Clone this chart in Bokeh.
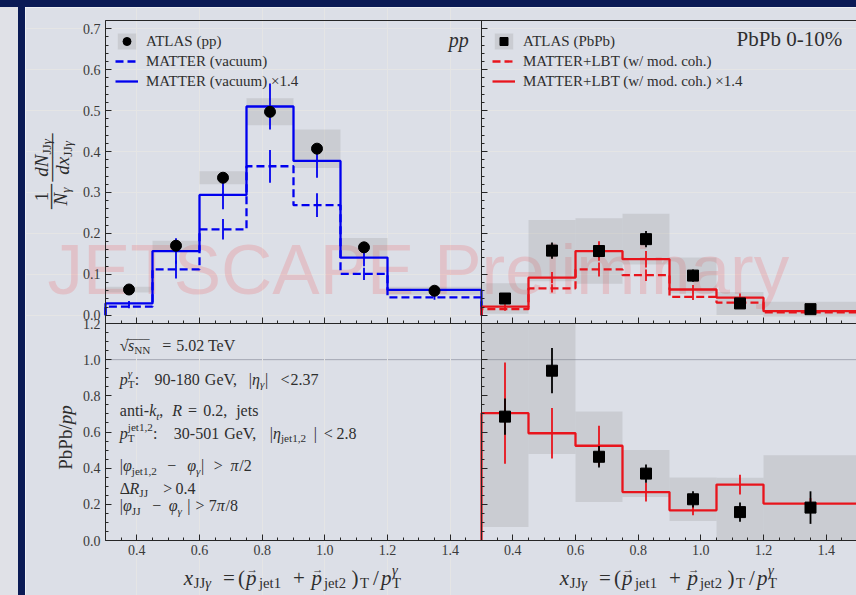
import math
from bokeh.plotting import figure
from bokeh.models import (Range1d, LinearAxis, FixedTicker, PrintfTickFormatter,
                          Label, Spacer, Legend, LegendItem)
from bokeh.layouts import row, column
from bokeh.embed import file_html
from bokeh.resources import INLINE
from bokeh.core.properties import value

# ---------------- data ----------------
bin_edges = [0.3, 0.45, 0.6, 0.75, 0.9, 1.05, 1.2, 1.5]
bin_centers = [0.375, 0.525, 0.675, 0.825, 0.975, 1.125, 1.35]

atlas_pp = [0.063, 0.170, 0.336, 0.497, 0.407, 0.166, 0.060]
atlas_pp_stat = [0.004, 0.006, 0.008, 0.010, 0.010, 0.007, 0.003]
atlas_pp_sys = [0.007, 0.012, 0.016, 0.033, 0.047, 0.023, 0.010]

matter_vac = [0.021, 0.112, 0.210, 0.364, 0.269, 0.101, 0.044]
matter_vac_err = [0.004, 0.022, 0.025, 0.040, 0.029, 0.015, 0.006]
matter_vac_x14 = [0.029, 0.157, 0.294, 0.510, 0.377, 0.141, 0.062]
matter_vac_x14_err = [0.006, 0.031, 0.035, 0.056, 0.041, 0.021, 0.008]

atlas_pbpb = [0.041, 0.158, 0.157, 0.186, 0.097, 0.029, 0.015]
atlas_pbpb_stat = [0.006, 0.020, 0.015, 0.020, 0.015, 0.006, 0.004]
atlas_pbpb_sys = [0.037, 0.075, 0.080, 0.062, 0.044, 0.028, 0.018]

lbt = [0.015, 0.066, 0.112, 0.098, 0.045, 0.031, 0.0073]
lbt_err = [0.004, 0.010, 0.017, 0.014, 0.0075, 0.007, 0.002]
lbt_x14 = [0.021, 0.092, 0.157, 0.137, 0.063, 0.043, 0.010]
lbt_x14_err = [0.006, 0.014, 0.024, 0.020, 0.011, 0.010, 0.003]

ratio_atlas = [0.685, 0.939, 0.463, 0.370, 0.228, 0.157, 0.182]
ratio_atlas_stat = [0.10, 0.125, 0.06, 0.05, 0.045, 0.053, 0.09]
ratio_atlas_sys = [0.611, 0.46, 0.25, 0.13, 0.12, 0.19, 0.29]
ratio_model = [0.704, 0.593, 0.524, 0.268, 0.167, 0.309, 0.204]
ratio_model_err = [0.28, 0.14, 0.11, 0.052, 0.028, 0.055, 0.03]
ratio_ref = 1.0

x_ticks = [0.4, 0.6, 0.8, 1.0, 1.2, 1.4]
x_minor = [0.35, 0.45, 0.5, 0.55, 0.65, 0.7, 0.75, 0.85, 0.9, 0.95,
           1.05, 1.1, 1.15, 1.25, 1.3, 1.35, 1.45]
top_y_ticks = [0.0, 0.1, 0.2, 0.3, 0.4, 0.5, 0.6, 0.7]
top_y_minor = [round(-0.02 + 0.02 * i, 2) for i in range(38)]
ratio_y_ticks = [0.0, 0.2, 0.4, 0.6, 0.8, 1.0, 1.2]
ratio_y_minor = [round(0.05 * i, 2) for i in range(25)]

XMIN, XMAX = 0.3, 1.5
T_BOT, T_TOP = -0.02, 0.72
B_BOT, B_TOP = 0.0, 1.2

# ---------------- styling / geometry ----------------
BG = "#dcdfe7"
LEFT_BG = "#e0e1e7"
NAVY = "#0a1a55"
BLUE = "#0000ee"
RED = "#e8141c"
AX = "#262626"
TXT = "#2e2e2e"
TICK_TXT = "#3a3a3a"
SERIF = "Liberation Serif"
SANS = "Liberation Sans"
BASE_FIX = 0.3   # lift applied to text anchors so glyph baselines land where intended

FIG_X0, FIG_Y0, FIG_X1, FIG_Y1 = 25, 7, 856, 595   # figure box on the page
FX0, FY0, FY1 = 105, 20, 540                        # panel frame edges on the page
MID_Y, DIV_X = 323, 481

SX = (DIV_X - FX0) / (XMAX - XMIN)
ST = (MID_Y - FY0) / (T_TOP - T_BOT)
SB = (FY1 - MID_Y) / (B_TOP - B_BOT)

XL = Range1d(XMIN - (FX0 - FIG_X0) / SX, XMIN + (FIG_X1 - FX0) / SX)
XR = Range1d(XMIN - (DIV_X - FIG_X0) / SX, XMIN + (FIG_X1 - DIV_X) / SX)
YT = Range1d(T_TOP - (FIG_Y1 - FY0) / ST, T_TOP + (FY0 - FIG_Y0) / ST)
YB = Range1d(B_BOT - (FIG_Y1 - FY1) / SB, B_BOT + (FY1 - FIG_Y0) / SB)

p = figure(width=FIG_X1 - FIG_X0, height=FIG_Y1 - FIG_Y0, output_backend="svg",
           toolbar_location=None, x_range=XL, y_range=YT,
           x_axis_location=None, y_axis_location=None,
           min_border=0, min_border_left=0, min_border_right=0,
           min_border_top=0, min_border_bottom=0,
           background_fill_color=BG, border_fill_color=BG, outline_line_color=None)
p.extra_x_ranges = {"R": XR}
p.extra_y_ranges = {"B": YB}


def add_axis(side, ticks, minor, fixed, bounds, labels, xr="default", yr="default",
             tin=6, mtin=3):
    ax = LinearAxis(ticker=FixedTicker(ticks=ticks, minor_ticks=minor),
                    formatter=PrintfTickFormatter(format="%.1f"),
                    fixed_location=fixed, bounds=bounds, x_range_name=xr, y_range_name=yr,
                    axis_line_color=AX, axis_line_width=1,
                    major_tick_line_color=AX, minor_tick_line_color=AX,
                    major_tick_in=tin, major_tick_out=0, minor_tick_in=mtin, minor_tick_out=0,
                    major_label_text_font=SERIF, major_label_text_font_size="14px",
                    major_label_text_color=TICK_TXT if labels else None,
                    major_label_standoff=5 if side == "left" else 4)
    p.add_layout(ax, side)


# spines and axes of the four panels
add_axis("above", [], [], T_TOP, (XMIN, XL.end), False, tin=0, mtin=0)
add_axis("left", top_y_ticks, top_y_minor, XMIN, (T_BOT, T_TOP), True)
add_axis("left", top_y_ticks, top_y_minor, XMAX, (T_BOT, T_TOP), False)
add_axis("left", ratio_y_ticks, ratio_y_minor, XMIN, (B_BOT, B_TOP), True, yr="B")
add_axis("left", ratio_y_ticks, ratio_y_minor, XMAX, (B_BOT, B_TOP), False, yr="B")
add_axis("below", x_ticks, x_minor, T_BOT, (XMIN, XMAX), False)
add_axis("below", x_ticks, x_minor, T_BOT, (XMIN, XR.end), False, xr="R")
add_axis("below", x_ticks, x_minor, B_BOT, (XMIN, XMAX), True, yr="B")
add_axis("below", x_ticks, x_minor, B_BOT, (XMIN, XR.end), True, xr="R", yr="B")


def hist_outline(edges, vals):
    xs, ys = [edges[0]], [0.0]
    for i, v in enumerate(vals):
        xs += [edges[i], edges[i + 1]]
        ys += [v, v]
    xs.append(edges[-1])
    ys.append(0.0)
    return xs, ys


def lo(v, e, cap=None):
    out = [a - b for a, b in zip(v, e)]
    return [max(o, cap) for o in out] if cap is not None else out


def hi(v, e, cap=None):
    out = [a + b for a, b in zip(v, e)]
    return [min(o, cap) for o in out] if cap is not None else out


def put(text, px, py, size, italic=False, angle=0.0, align="left", font=SERIF,
        color=TXT, alpha=1.0, level="annotation"):
    n = len(text) - len(text.lstrip(" "))
    if n and align == "left":
        px += n * 0.25 * size * math.cos(angle)
        py -= n * 0.25 * size * math.sin(angle)
        text = text.lstrip(" ")
    # lift along the glyphs' "up" direction
    px -= BASE_FIX * size * math.sin(angle)
    py -= BASE_FIX * size * math.cos(angle)
    p.add_layout(Label(x=XMIN, y=T_TOP, x_offset=px - FX0, y_offset=FY0 - py,
                       text=text, text_font=font, text_font_size=f"{size:.1f}px",
                       text_font_style="italic" if italic else "normal",
                       text_color=color, text_alpha=alpha, text_align=align,
                       text_baseline="alphabetic", angle=angle, level=level))


# watermark (behind the data)
put("JETSCAPE Preliminary", 47, 290, 71, font=SANS, color="red", alpha=0.13, level="underlay")

# ---------- top-left: pp ----------
box_pp = p.quad(left=bin_edges[:-1], right=bin_edges[1:], bottom=lo(atlas_pp, atlas_pp_sys),
                top=hi(atlas_pp, atlas_pp_sys), fill_color="grey", fill_alpha=0.2, line_color=None)
xs, ys = hist_outline(bin_edges, matter_vac)
l_vac = p.line(xs, ys, line_color=BLUE, line_width=2.3, line_dash="8 4")
p.segment(x0=bin_centers, x1=bin_centers, y0=lo(matter_vac, matter_vac_err),
          y1=hi(matter_vac, matter_vac_err), line_color=BLUE, line_width=1.8)
xs, ys = hist_outline(bin_edges, matter_vac_x14)
l_vac14 = p.line(xs, ys, line_color=BLUE, line_width=2.3)
p.segment(x0=bin_centers, x1=bin_centers, y0=lo(matter_vac_x14, matter_vac_x14_err),
          y1=hi(matter_vac_x14, matter_vac_x14_err), line_color=BLUE, line_width=1.8)
p.segment(x0=bin_centers, x1=bin_centers, y0=lo(atlas_pp, atlas_pp_stat),
          y1=hi(atlas_pp, atlas_pp_stat), line_color="black", line_width=1.8)
pts_pp = p.scatter(bin_centers, atlas_pp, marker="circle", size=11,
                   fill_color="black", line_color="black")

# ---------- top-right: PbPb ----------
box_aa = p.quad(left=bin_edges[:-1], right=bin_edges[1:], bottom=lo(atlas_pbpb, atlas_pbpb_sys),
                top=hi(atlas_pbpb, atlas_pbpb_sys), fill_color="grey", fill_alpha=0.2,
                line_color=None, x_range_name="R")
xs, ys = hist_outline(bin_edges, lbt)
l_lbt = p.line(xs, ys, line_color=RED, line_width=2.3, line_dash="8 4", x_range_name="R")
p.segment(x0=bin_centers, x1=bin_centers, y0=lo(lbt, lbt_err), y1=hi(lbt, lbt_err),
          line_color=RED, line_width=1.8, x_range_name="R")
xs, ys = hist_outline(bin_edges, lbt_x14)
l_lbt14 = p.line(xs, ys, line_color=RED, line_width=2.3, x_range_name="R")
p.segment(x0=bin_centers, x1=bin_centers, y0=lo(lbt_x14, lbt_x14_err), y1=hi(lbt_x14, lbt_x14_err),
          line_color=RED, line_width=1.8, x_range_name="R")
p.segment(x0=bin_centers, x1=bin_centers, y0=lo(atlas_pbpb, atlas_pbpb_stat),
          y1=hi(atlas_pbpb, atlas_pbpb_stat), line_color="black", line_width=1.8, x_range_name="R")
sq_aa = p.scatter(bin_centers, atlas_pbpb, marker="square", size=11, fill_color="black",
                  line_color="black", x_range_name="R")

# ---------- bottom: ratio ----------
for xrn in ("default", "R"):
    p.segment(x0=[XMIN], x1=[XMAX], y0=[ratio_ref], y1=[ratio_ref], line_color="#a3a7b3",
              line_width=1, x_range_name=xrn, y_range_name="B", level="underlay")
p.quad(left=bin_edges[:-1], right=bin_edges[1:],
       bottom=lo(ratio_atlas, ratio_atlas_sys, cap=B_BOT),
       top=hi(ratio_atlas, ratio_atlas_sys, cap=B_TOP), fill_color="grey", fill_alpha=0.2,
       line_color=None, x_range_name="R", y_range_name="B")
xs, ys = hist_outline(bin_edges, ratio_model)
p.line(xs, ys, line_color=RED, line_width=2.3, x_range_name="R", y_range_name="B")
p.segment(x0=bin_centers, x1=bin_centers, y0=lo(ratio_model, ratio_model_err),
          y1=hi(ratio_model, ratio_model_err), line_color=RED, line_width=1.8,
          x_range_name="R", y_range_name="B")
p.segment(x0=bin_centers, x1=bin_centers, y0=lo(ratio_atlas, ratio_atlas_stat),
          y1=hi(ratio_atlas, ratio_atlas_stat), line_color="black", line_width=1.8,
          x_range_name="R", y_range_name="B")
p.scatter(bin_centers, ratio_atlas, marker="square", size=11, fill_color="black",
          line_color="black", x_range_name="R", y_range_name="B")

# ---------- legends ----------
def make_legend(items, loc):
    lg = Legend(items=items, location=loc, background_fill_alpha=0, border_line_color=None,
                padding=0, margin=0, spacing=0, glyph_width=23, glyph_height=20,
                label_height=20, label_standoff=8, label_text_font=SERIF,
                label_text_font_size="15px", label_text_color=TXT)
    p.add_layout(lg)


make_legend([LegendItem(label=value("ATLAS (pp)"), renderers=[box_pp, pts_pp]),
             LegendItem(label=value("MATTER (vacuum)"), renderers=[l_vac]),
             LegendItem(label=value("MATTER (vacuum) \u00d71.4"), renderers=[l_vac14])],
            (115 - FIG_X0, FIG_Y1 - 91))
make_legend([LegendItem(label=value("ATLAS (PbPb)"), renderers=[box_aa, sq_aa]),
             LegendItem(label=value("MATTER+LBT (w/ mod. coh.)"), renderers=[l_lbt]),
             LegendItem(label=value("MATTER+LBT (w/ mod. coh.) \u00d71.4"), renderers=[l_lbt14])],
            (492 - FIG_X0, FIG_Y1 - 91))

# ---------- math-like text helpers ----------
RM_W = {' ': .25, '!': .333, '(': .333, ')': .333, '+': .564, ',': .25, '-': .333, '.': .25,
        '/': .278, ':': .278, '<': .564, '=': .564, '>': .564, '%': .833, '|': .2,
        '\u00d7': .564, '\u2212': .564, '\u221a': .549, '\u0394': .612, '_': .5,
        '\u03b3': .45, '\u03b7': .5, '\u03c6': .55, '\u03c0': .55,
        'A': .722, 'B': .667, 'C': .667, 'D': .722, 'E': .611, 'F': .556, 'G': .722, 'H': .722,
        'I': .333, 'J': .389, 'K': .722, 'L': .611, 'M': .889, 'N': .722, 'O': .722, 'P': .556,
        'R': .667, 'S': .556, 'T': .611, 'V': .722,
        'a': .444, 'b': .5, 'c': .444, 'd': .5, 'e': .444, 'h': .5, 'i': .278, 'j': .278,
        'k': .5, 'l': .278, 'm': .778, 'n': .5, 'o': .5, 'p': .5, 'r': .333, 's': .389,
        't': .278, 'u': .5, 'v': .5, 'x': .5}
IT_W = dict(RM_W)
IT_W.update({'k': .444, 'x': .444, 'R': .611, 'N': .667, 'T': .556, 'a': .5, 'd': .5})


def tw(text, italic, size):
    tab = IT_W if italic else RM_W
    return sum(tab.get(c, .5) for c in text) * size


def mathline(segs, x, y, size, angle=0.0, color=TXT, subdrop=0.22):
    ca, sa = math.cos(angle), math.sin(angle)
    adv = (ca, -sa)
    down = (sa, ca)
    cur = 0.0

    def place(text, a, shift, s, italic, align="left"):
        px = x + a * adv[0] + shift * down[0]
        py = y + a * adv[1] + shift * down[1]
        put(text, px, py, s, italic=italic, angle=angle, color=color, align=align)
        return tw(text, italic, s)

    for seg in segs:
        text, kind = seg[0], seg[1]
        opt = seg[2] if len(seg) > 2 else {}
        if "x" in opt:
            cur = opt["x"] - x
        cur += opt.get("gap", 0.0)
        ss = size * 0.7
        if kind == "rm":
            cur += place(text, cur, 0, size, False)
        elif kind == "it":
            cur += place(text, cur, 0, size, True)
        elif kind == "sub":
            cur += place(text, cur, subdrop * size, ss, False)
        elif kind == "subit":
            cur += place(text, cur, subdrop * size, ss, True)
        elif kind == "subsup":
            sub, sup, sup_it = text
            w1 = place(sub, cur, subdrop * size, ss, False)
            w2 = place(sup, cur, -0.45 * size, ss, sup_it)
            cur += max(w1, w2)
        elif kind == "vec":
            w = place(text, cur, 0, size, True)
            place("\u2192", cur + 0.6 * w, -0.5 * size, 0.55 * size, False, align="center")
            cur += w


# ---------- panel labels ----------
put("pp", 468.3, 45, 20, italic=True, align="right")
put("PbPb 0-10%", 841.7, 45, 21, align="right")

# ---------- annotation block (bottom-left) ----------
S = 16
mathline([("\u221a", "rm", {"x": 119.3}), ("s", "it", {"x": 127.5}), ("NN", "sub"),
          ("=", "rm", {"x": 161.7}), ("5.02 TeV", "rm", {"gap": 5})], 119.3, 349.5, S)
put("____", 126, 336.5, 11.5)
mathline([("p", "it", {"x": 119.3}), (("T", "\u03b3", True), "subsup"), (":", "rm"),
          ("90-180", "rm", {"x": 154}), ("GeV,", "rm", {"gap": 5}), ("|", "rm", {"x": 248.3}),
          ("\u03b7", "it"), ("\u03b3", "subit"), ("|", "rm"), ("<", "rm", {"x": 280}),
          ("2.37", "rm", {"x": 290})], 119.3, 383.5, S)
mathline([("anti-", "rm", {"x": 119.3}), ("k", "it"), ("t", "subit"), (",", "rm"),
          ("R", "it", {"gap": 9}), ("=", "rm", {"gap": 6}), ("0.2,", "rm", {"gap": 6}),
          ("jets", "rm", {"gap": 9})], 119.3, 415, S)
mathline([("p", "it", {"x": 119.3}), (("T", "jet1,2", False), "subsup"), (":", "rm"),
          ("30-501", "rm", {"x": 173.3}), ("GeV,", "rm", {"gap": 5}), ("|", "rm", {"x": 269.3}),
          ("\u03b7", "it"), ("jet1,2", "sub"), ("|", "rm", {"x": 313.3}),
          ("<", "rm", {"x": 323.3}), ("2.8", "rm", {"x": 336})], 119.3, 437.5, S)
mathline([("|", "rm", {"x": 119.3}), ("\u03c6", "it"), ("jet1,2", "sub"),
          ("\u2212", "rm", {"x": 166.7}), ("\u03c6", "it", {"x": 186.7}), ("\u03b3", "subit"),
          ("|", "rm"), (">", "rm", {"x": 213.3}), ("\u03c0", "it", {"x": 230}), ("/2", "rm")],
         119.3, 470, S)
mathline([("\u0394", "rm", {"x": 119.3}), ("R", "it"), ("JJ", "sub"),
          (">", "rm", {"x": 162.7}), ("0.4", "rm", {"x": 175})], 119.3, 492.5, S)
mathline([("|", "rm", {"x": 119.3}), ("\u03c6", "it"), ("JJ", "sub"),
          ("\u2212", "rm", {"x": 151.7}), ("\u03c6", "it", {"x": 168.3}), ("\u03b3", "subit"),
          ("|", "rm", {"x": 186.7}), (">", "rm", {"x": 195}), ("7", "rm", {"x": 208.3}),
          ("\u03c0", "it"), ("/8", "rm")], 119.3, 510, S)

# ---------- x-axis labels ----------
for off in (0, DIV_X - FX0):
    X = lambda v: v + off
    mathline([("x", "it", {"x": X(183.3)}), ("JJ", "sub", {"x": X(193.3)}), ("\u03b3", "subit"),
              ("=", "rm", {"x": X(222.5)}), ("(", "rm", {"x": X(237.5)}),
              ("p", "vec", {"x": X(245.5)}), ("jet1", "sub", {"x": X(258.5)}),
              ("+", "rm", {"x": X(292.5)}), ("p", "vec", {"x": X(311)}),
              ("jet2", "sub", {"x": X(323.5)}), (")", "rm", {"x": X(351)}),
              ("T", "sub", {"x": X(359.5)}), ("/", "rm", {"x": X(372.5)}),
              ("p", "it", {"x": X(380.5)}), (("T", "\u03b3", True), "subsup", {"x": X(391.5)})],
             X(183.3), 583.3, 21, subdrop=0.17)

# ---------- y-axis labels (rotated) ----------
UP = math.pi / 2
YS = 19
put("1", 46.5, 196, YS, angle=UP, align="center")
put("\u2014", 56.5, 196, 25, angle=UP, align="center")
mathline([("N", "it"), ("\u03b3", "subit")], 66, 196 + tw("N\u03b3", True, YS) * 0.42, YS,
         angle=UP, subdrop=0.17)
num_w = tw("dN", True, YS) + tw("JJ\u03b3", False, YS * 0.7)
mathline([("dN", "it"), ("JJ", "sub"), ("\u03b3", "subit")], 47, 157 + num_w / 2, YS,
         angle=UP, subdrop=0.17)
put("\u2014\u2014", 56.5, 157, 24, angle=UP, align="center")
den_w = tw("dx", True, YS) + tw("JJ\u03b3", False, YS * 0.7)
mathline([("dx", "it"), ("JJ", "sub"), ("\u03b3", "subit")], 67.5, 157 + den_w / 2, YS,
         angle=UP, subdrop=0.17)

pb_w = tw("PbPb/", False, 19) + tw("pp", True, 19)
mathline([("PbPb/", "rm"), ("pp", "it")], 71, 437 + pb_w / 2, 19, angle=UP)

layout = column(
    Spacer(width=856, height=FIG_Y0, styles={"background-color": NAVY}),
    row(Spacer(width=18, height=FIG_Y1 - FIG_Y0, styles={"background-color": LEFT_BG}),
        Spacer(width=FIG_X0 - 18, height=FIG_Y1 - FIG_Y0, styles={"background-color": NAVY}),
        p))

open("out.html", "w").write(file_html(layout, INLINE))
